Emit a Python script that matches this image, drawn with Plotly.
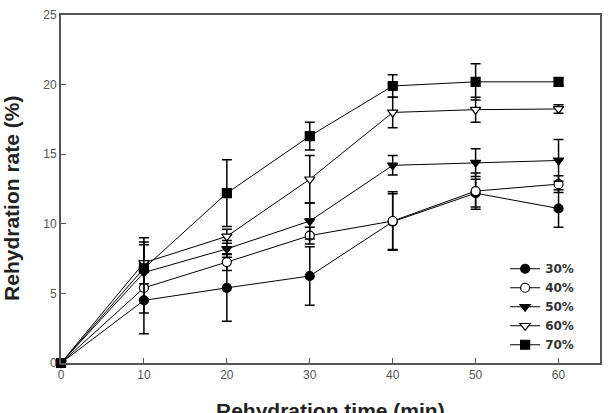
import plotly.graph_objects as go

time_min = [0, 10, 20, 30, 40, 50, 60]
series_names = ["30%", "40%", "50%", "60%", "70%"]
rate_30 = [0, 4.5, 5.4, 6.25, 10.15, 12.2, 11.1]
rate_40 = [0, 5.4, 7.25, 9.15, 10.2, 12.35, 12.85]
rate_50 = [0, 6.5, 8.2, 10.2, 14.2, 14.4, 14.55]
rate_60 = [0, 7.2, 9.1, 13.2, 18.0, 18.2, 18.25]
rate_70 = [0, 6.8, 12.2, 16.3, 19.9, 20.2, 20.2]
err_30 = [0, 2.4, 2.4, 2.1, 2.0, 1.0, 1.35]
err_40 = [0, 1.8, 0.6, 0.6, 2.1, 1.3, 0.6]
err_50 = [0, 2.0, 0.6, 1.3, 0.7, 1.0, 1.5]
err_60 = [0, 1.5, 0.5, 1.7, 1.1, 0.9, 0.3]
err_70 = [0, 2.2, 2.4, 1.0, 0.8, 1.3, 0.3]
x_ticks = [0, 10, 20, 30, 40, 50, 60]
y_ticks = [0, 5, 10, 15, 20, 25]

values = [rate_30, rate_40, rate_50, rate_60, rate_70]
errors = [err_30, err_40, err_50, err_60, err_70]
symbols = ["circle", "circle", "triangle-down", "triangle-down", "square"]
fills = ["black", "white", "black", "white", "black"]

fig = go.Figure()
for name, y, e, sym, fc in zip(series_names, values, errors, symbols, fills):
    fig.add_trace(go.Scatter(
        x=time_min, y=y, name=name, mode="lines+markers",
        line=dict(color="black", width=1),
        marker=dict(symbol=sym, size=9, color=fc, line=dict(color="black", width=1.2)),
        error_y=dict(type="data", array=e, visible=True, color="black", thickness=1.5, width=5),
        cliponaxis=False,
    ))

axis_common = dict(
    showline=True, linecolor="#555", linewidth=2, mirror=True,
    ticks="inside", ticklen=5, tickcolor="#555", tickwidth=1,
    showgrid=False, zeroline=False,
    tickfont=dict(family="Liberation Sans, Arial", size=12, color="#555"),
)

title_font = dict(family="Liberation Sans, Arial", size=21, color="#222", weight="bold")

fig.update_layout(
    width=610, height=413,
    margin=dict(l=61, r=8, t=11, b=50),
    paper_bgcolor="white", plot_bgcolor="white",
    showlegend=True,
    legend=dict(
        x=0.824, y=0.3125, xanchor="left", yanchor="top",
        font=dict(family="DejaVu Sans", size=12, color="#333", weight="bold"),
        bgcolor="rgba(0,0,0,0)", tracegroupgap=0, itemwidth=30,
    ),
    xaxis=dict(range=[0, 65], tickvals=x_ticks, **axis_common),
    yaxis=dict(range=[0, 25], tickvals=y_ticks, **axis_common),
    annotations=[
        dict(text="Rehydration time (min)", xref="paper", yref="paper",
             x=0.5, y=-0.099, xanchor="center", yanchor="top", showarrow=False,
             font=title_font),
        dict(text="Rehydration rate (%)", xref="paper", yref="paper",
             x=-0.0906, y=0.472, xanchor="center", yanchor="middle", textangle=-90,
             showarrow=False, font=title_font),
    ],
)

fig.write_html("out.html")
